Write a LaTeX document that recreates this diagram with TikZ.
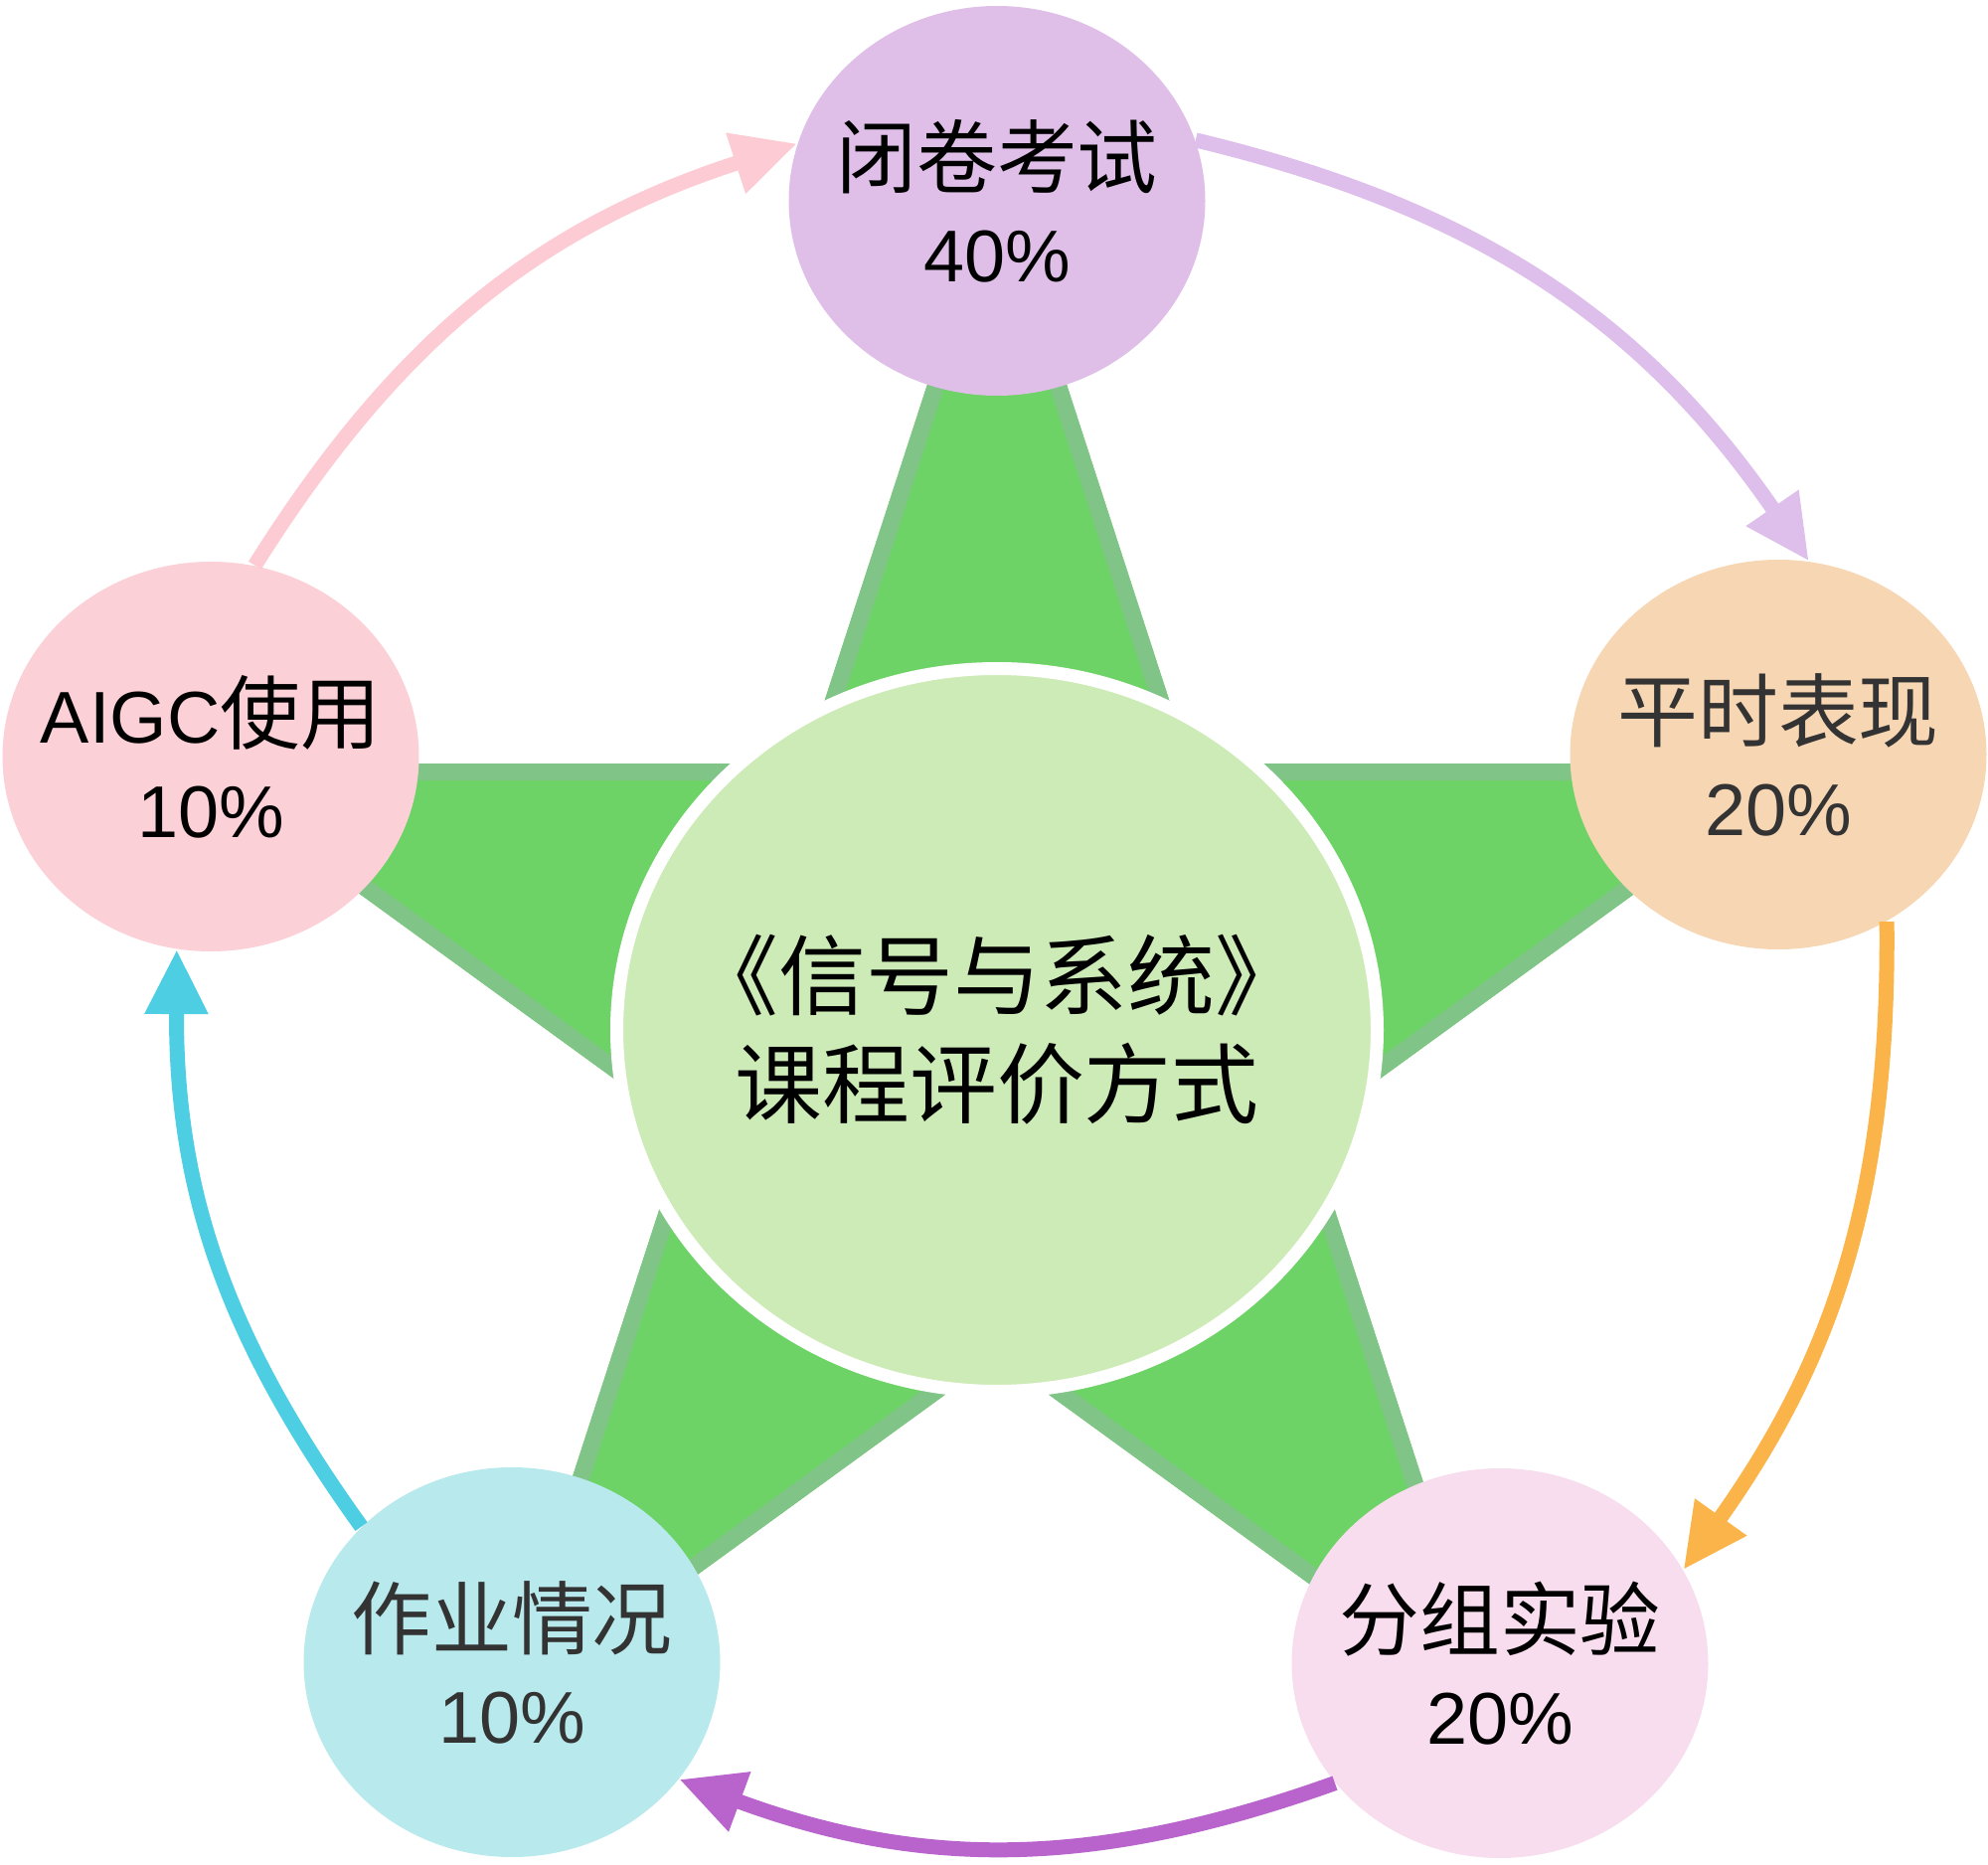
\documentclass[tikz,border=0pt]{standalone}
\usepackage{fontspec}
\setmainfont{Liberation Sans}
\newfontfamily\cjk{Noto Sans CJK SC}
\usetikzlibrary{shapes.geometric,arrows.meta}
\definecolor{examFill}{HTML}{DFBFE8}
\definecolor{usualFill}{HTML}{F7D6B4}
\definecolor{labFill}{HTML}{F8DDEE}
\definecolor{hwFill}{HTML}{B8E9EC}
\definecolor{aigcFill}{HTML}{FCD0D7}
\definecolor{coreFill}{HTML}{CDEBB6}
\definecolor{starFill}{HTML}{6DD366}
\definecolor{starEdge}{HTML}{80C587}
\definecolor{pinkArrow}{HTML}{FCCBD3}
\definecolor{lilacArrow}{HTML}{DEBEEA}
\definecolor{orangeArrow}{HTML}{FAB44A}
\definecolor{purpleArrow}{HTML}{B964CC}
\definecolor{cyanArrow}{HTML}{4ECEE2}
\newcommand{\zh}[1]{{\cjk\fontsize{23}{27}\selectfont #1}}
\newcommand{\twolines}[2]{\makebox[0pt]{#1}\\\makebox[0pt]{#2}}
\newcommand{\starpath}{(90:8.64) -- (126:3.30) -- (162:8.64) -- (198:3.30) -- (234:8.64) -- (270:3.30) -- (306:8.64) -- (342:3.30) -- (18:8.64) -- (54:3.30) -- cycle}

\begin{document}
\begin{tikzpicture}[
    bubble/.style={ellipse, minimum width=4.19cm, minimum height=3.92cm, inner sep=0pt, align=center, font=\fontsize{21}{27}\selectfont},
    core/.style={ellipse, draw=white, line width=0.13cm, fill=coreFill, minimum width=7.65cm, minimum height=7.27cm, inner sep=0pt, align=center, font=\cjk\fontsize{25}{31}\selectfont},
    flow/.style={line width=0.15cm, -{Triangle[length=6.5mm,width=6mm]}}
]
    \useasboundingbox (0,0) rectangle (20,18.75);

    % green star behind everything
    \begin{scope}[shift={(10.03,8.40)}]
        \fill[starFill] \starpath;
        \clip \starpath;
        \draw[starEdge, line width=0.34cm] \starpath;
    \end{scope}

    \node[core] (core) at (10.03,8.39) {\twolines{《信号与系统》}{课程评价方式}};

    \node[bubble, fill=examFill] (exam) at (10.03,16.73) {\twolines{\zh{闭卷考试}}{40\%}};
    \node[bubble, fill=usualFill, text=black!80] (usual) at (17.89,11.16) {\twolines{\zh{平时表现}}{20\%}};
    \node[bubble, fill=labFill] (lab) at (15.09,2.02) {\twolines{\zh{分组实验}}{20\%}};
    \node[bubble, fill=hwFill, text=black!80] (hw) at (5.15,2.03) {\twolines{\zh{作业情况}}{10\%}};
    \node[bubble, fill=aigcFill] (aigc) at (2.12,11.14) {\twolines{AIGC\zh{使用}}{10\%}};

    % cycle of arrows
    \draw[flow, pinkArrow] (aigc.77) to[bend left=20] (exam.164);
    \draw[flow, lilacArrow] (exam.17) to[bend left=21] (usual.81);
    \draw[flow, orangeArrow] (usual.-57) to[bend left=18] (lab.27);
    \draw[flow, purpleArrow] (lab.216) to[bend left=20] (hw.-35);
    \draw[flow, cyanArrow] (hw.138) to[bend left=18] (aigc.260);

\end{tikzpicture}
\end{document}
